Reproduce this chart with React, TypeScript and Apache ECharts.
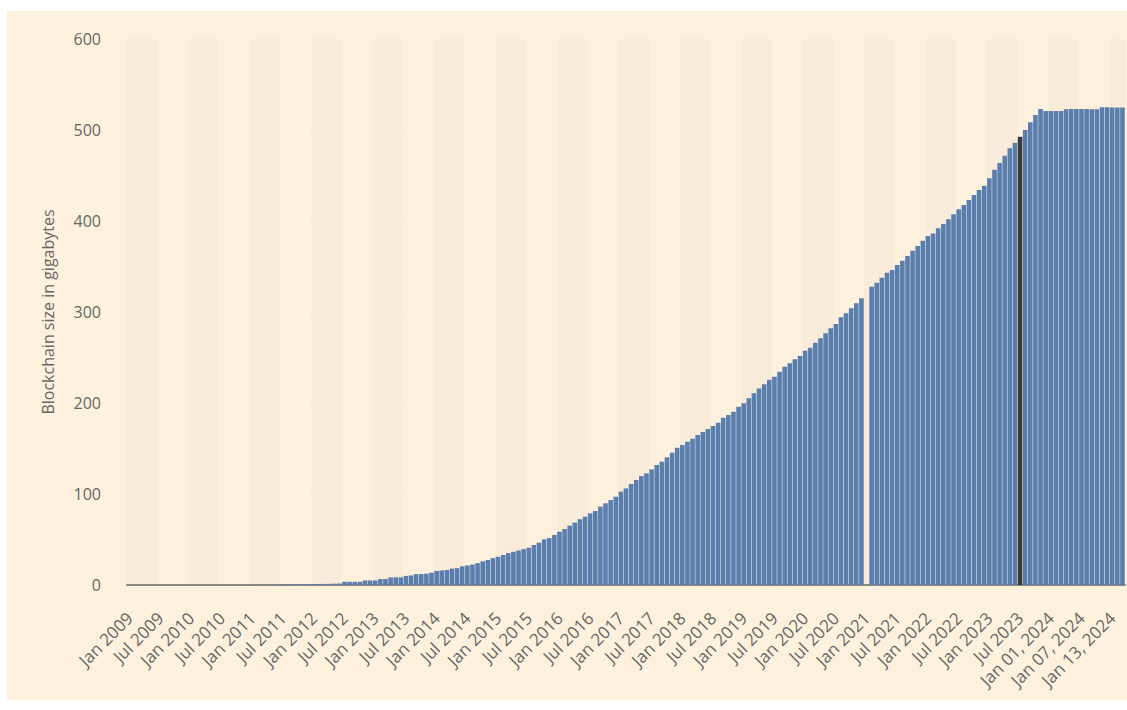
import React, { useEffect, useRef } from "react";
import * as echarts from "echarts";

// Monthly categories Jan 2009 – Dec 2023, then daily values in January 2024
const MONTHS = ["Jan", "Feb", "Mar", "Apr", "May", "Jun", "Jul", "Aug", "Sep", "Oct", "Nov", "Dec"];
const YEARS = [2009, 2010, 2011, 2012, 2013, 2014, 2015, 2016, 2017, 2018, 2019, 2020, 2021, 2022, 2023];
const DAYS_2024 = [
  "Jan 01, 2024", "Jan 02, 2024", "Jan 03, 2024", "Jan 04, 2024", "Jan 05, 2024",
  "Jan 06, 2024", "Jan 07, 2024", "Jan 08, 2024", "Jan 09, 2024", "Jan 10, 2024",
  "Jan 11, 2024", "Jan 12, 2024", "Jan 13, 2024", "Jan 14, 2024", "Jan 15, 2024",
];

// Blockchain size in gigabytes
const size2009 = [0, 0, 0, 0, 0, 0, 0, 0.01, 0.01, 0.01, 0.01, 0.01];
const size2010 = [0.01, 0.02, 0.02, 0.02, 0.02, 0.03, 0.03, 0.04, 0.05, 0.06, 0.08, 0.1];
const size2011 = [0.13, 0.16, 0.2, 0.25, 0.35, 0.45, 0.55, 0.65, 0.75, 0.85, 0.95, 1.05];
const size2012 = [1.0, 1.1, 1.2, 1.3, 1.45, 1.6, 3.5, 3.5, 3.5, 3.5, 5, 5];
const size2013 = [5, 6.5, 6.5, 8.4, 8.4, 8.4, 10, 10.5, 12, 12, 12.5, 13.5];
const size2014 = [15.5, 16, 16.5, 18, 18.5, 20.5, 21.5, 22.5, 24, 26, 27.5, 29.5];
const size2015 = [31, 33, 35, 36.5, 38, 39.5, 41, 44, 46.5, 50.2, 51.6, 55];
const size2016 = [58.6, 61.5, 65.2, 68.5, 72.2, 75.1, 78.8, 81.3, 86.1, 89.8, 93.4, 97];
const size2017 = [102.6, 106.2, 111, 115.4, 119.8, 122.7, 127.1, 131.9, 135.5, 140.3, 145.4, 150.9];
const size2018 = [153.8, 157.5, 160.8, 164.8, 168.1, 171.4, 174.7, 178.4, 183.8, 186.8, 190.4, 195.9];
const size2019 = [199.6, 205.1, 210.7, 216, 220.5, 225.6, 228.9, 234.4, 239.9, 243.6, 248, 251.6];
const size2020 = [257.5, 260.8, 266.3, 271.1, 276.6, 282.1, 286.8, 294.1, 298.5, 304, 309.5, 315];
const size2021 = [null, 327.8, 332.2, 337.7, 343.2, 346.2, 351.6, 356.4, 361.5, 367.4, 372.5, 378.4];
const size2022 = [383.5, 386.4, 392, 396.7, 401.8, 407.3, 412.8, 417.6, 423.1, 428.6, 434.1, 438.8];
const size2023 = [446.9, 456.4, 463.7, 471.8, 479.9, 486, 492.6, 500, 508.4, 516.5, 523, 520.9];
const sizeJan2024Daily = [521, 521, 521, 522.7, 523, 523, 523, 523, 522.7, 522.7, 525, 525, 524.8, 524.8, 524.8];

const HIGHLIGHTED = "Jul 2023";
const Y_TICKS = [0, 100, 200, 300, 400, 500, 600];

const categories: string[] = [
  ...YEARS.flatMap((y) => MONTHS.map((m) => `${m} ${y}`)),
  ...DAYS_2024,
];
const values: (number | null)[] = [
  ...size2009, ...size2010, ...size2011, ...size2012, ...size2013,
  ...size2014, ...size2015, ...size2016, ...size2017, ...size2018,
  ...size2019, ...size2020, ...size2021, ...size2022, ...size2023,
  ...sizeJan2024Daily,
];

const FONT = "'Open Sans', 'Noto Sans', sans-serif";
const TEXT = "#666666";

export default function App() {
  const ref = useRef<HTMLDivElement>(null);

  useEffect(() => {
    if (!ref.current) return;
    const chart = echarts.init(ref.current, undefined, { renderer: "svg" });
    chart.setOption({
      animation: false,
      backgroundColor: "#fdf1dd",
      grid: { left: 120, right: 2, top: 28, bottom: 115, containLabel: false },
      xAxis: {
        type: "category",
        data: categories,
        boundaryGap: true,
        axisLine: { show: true, lineStyle: { color: "#8c877d", width: 2 } },
        axisTick: { show: false },
        axisLabel: {
          interval: 5,
          rotate: 45,
          margin: 30,
          color: TEXT,
          fontFamily: FONT,
          fontSize: 17,
        },
        splitLine: { show: false },
        splitArea: {
          show: true,
          interval: 5,
          areaStyle: { color: ["#f8ebd9", "#fdf1dd"] },
        },
      },
      yAxis: {
        type: "value",
        min: Y_TICKS[0],
        max: Y_TICKS[Y_TICKS.length - 1],
        interval: 100,
        name: "Blockchain size in gigabytes",
        nameLocation: "middle",
        nameGap: 71,
        nameTextStyle: { color: TEXT, fontFamily: FONT, fontSize: 16 },
        axisLine: { show: false },
        axisTick: { show: false },
        axisLabel: { color: TEXT, fontFamily: FONT, fontSize: 16, margin: 26 },
        splitLine: { show: true, lineStyle: { color: "#d6cfc2", type: "dotted", width: 1 } },
      },
      series: [
        {
          type: "bar",
          data: values.map((v, i) =>
            categories[i] === HIGHLIGHTED
              ? { value: v, itemStyle: { color: "#3b3b3b" } }
              : v
          ),
          barCategoryGap: "10%",
          itemStyle: { color: "#5a7eae" },
        },
      ],
    });
    return () => chart.dispose();
  }, []);

  return (
    <div
      ref={ref}
      style={{ position: "fixed", left: 7, top: 11, width: 1120, height: 689 }}
    />
  );
}
